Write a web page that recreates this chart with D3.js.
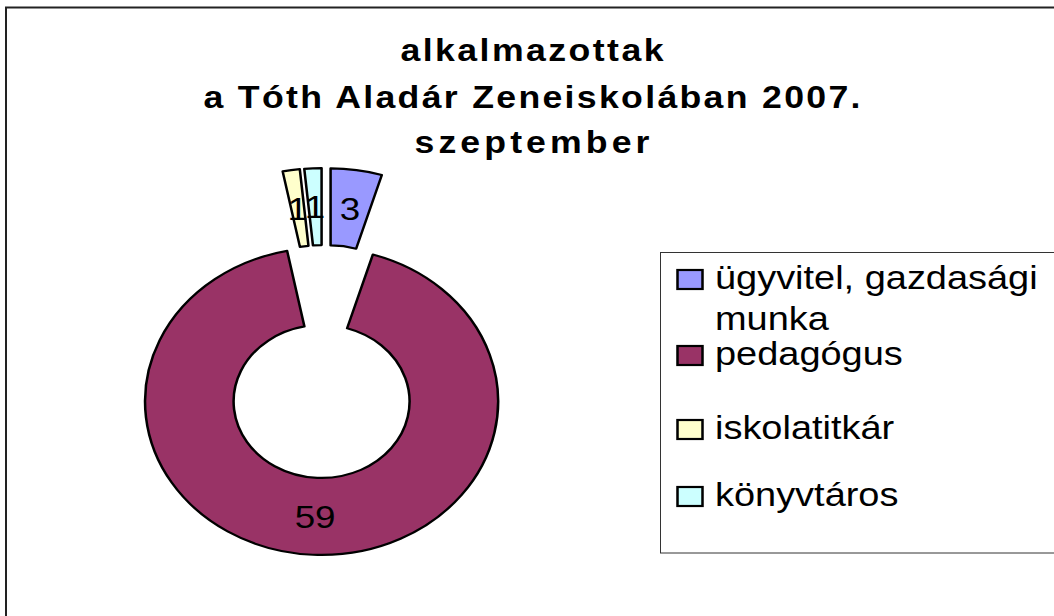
<!DOCTYPE html>
<html>
<head>
<meta charset="utf-8">
<script src="https://cdn.jsdelivr.net/npm/d3@7"></script>
<style>
	body { margin: 0; background: #fff; }
	svg { display: block; font-family: "Liberation Sans", Arial, sans-serif; }
</style>
</head>
<body>
<div id="chart"></div>
<script>
// Chart data
let categories = ['ügyvitel, gazdasági munka', 'pedagógus', 'iskolatitkár', 'könyvtáros'];
let values = [3, 59, 1, 1];
let legendLines = [['ügyvitel, gazdasági', 'munka'], ['pedagógus'], ['iskolatitkár'], ['könyvtáros']];
let titleLines = ['alkalmazottak', 'a Tóth Aladár Zeneiskolában 2007.', 'szeptember'];
let colors = ['#9999ff', '#993366', '#ffffcc', '#ccffff'];

let width = 1054;
let height = 616;
let SX = 1.15; // the original picture is stretched horizontally
let rOuter = 153.5;
let rInner = 76.5;
let explode = 40; // distance each slice is pulled out
let center = [281.6, 361.5];

let svg = d3.select('#chart')
		.append('svg')
		.attr('width', width)
		.attr('height', height);

// Outer frame of the chart area (runs past the right and bottom edge)
svg.append('rect')
		.attr('x', 6)
		.attr('y', 7.5)
		.attr('width', 1200)
		.attr('height', 800)
		.attr('fill', 'none')
		.attr('stroke', '#222')
		.attr('stroke-width', 2);

// Legend frame
svg.append('rect')
		.attr('x', 660.5)
		.attr('y', 252.5)
		.attr('width', 600)
		.attr('height', 300.5)
		.attr('fill', 'none')
		.attr('stroke', '#333')
		.attr('stroke-width', 1);

let g = svg.append('g').attr('transform', `scale(${SX},1)`);

// Title
let titleBase = [61, 108, 153];
let titleLen = [263, 657, 235];
g.append('g')
		.selectAll('text')
		.data(titleLines)
		.enter()
		.append('text')
		.attr('x', 532 / SX)
		.attr('y', (d, i) => titleBase[i])
		.attr('text-anchor', 'middle')
		.attr('font-size', 31)
		.attr('font-weight', 'bold')
		.attr('textLength', (d, i) => titleLen[i] / SX)
		.attr('lengthAdjust', 'spacing')
		.text(d => d);

// Doughnut, every slice exploded along its bisector
let pie = d3.pie().sort(null).value(d => d);
let arc = d3.arc().innerRadius(rInner).outerRadius(rOuter);
let arcs = pie(values);

function offset(d) {
	let a = (d.startAngle + d.endAngle) / 2;
	return [center[0] + explode * Math.sin(a), center[1] - explode * Math.cos(a)];
}

let slices = g.append('g')
		.selectAll('g')
		.data(arcs)
		.enter()
		.append('g')
		.attr('transform', d => `translate(${offset(d)})`);

slices.append('path')
		.attr('d', arc)
		.attr('fill', (d, i) => colors[i])
		.attr('stroke', '#000')
		.attr('stroke-width', 2.2)
		.attr('stroke-linejoin', 'round');

slices.append('text')
		.attr('x', d => arc.centroid(d)[0])
		.attr('y', d => arc.centroid(d)[1])
		.attr('dy', '0.36em')
		.attr('text-anchor', 'middle')
		.attr('font-size', 32)
		.attr('fill', '#000')
		.text(d => d.data);

// Legend
let rowTop = [270, 346, 420, 487];
let legend = g.append('g')
		.selectAll('g')
		.data(categories)
		.enter()
		.append('g');

legend.append('rect')
		.attr('x', 677.5 / SX)
		.attr('y', (d, i) => rowTop[i])
		.attr('width', 25 / SX)
		.attr('height', 19)
		.attr('fill', (d, i) => colors[i])
		.attr('stroke', '#000')
		.attr('stroke-width', 2.2);

legend.each(function(d, i) {
	let t = d3.select(this).append('text')
			.attr('font-size', 33)
			.attr('fill', '#000');
	legendLines[i].forEach((line, j) => {
		t.append('tspan')
				.attr('x', 715 / SX)
				.attr('y', rowTop[i] + 19 + j * 41)
				.text(line);
	});
});
</script>
</body>
</html>
